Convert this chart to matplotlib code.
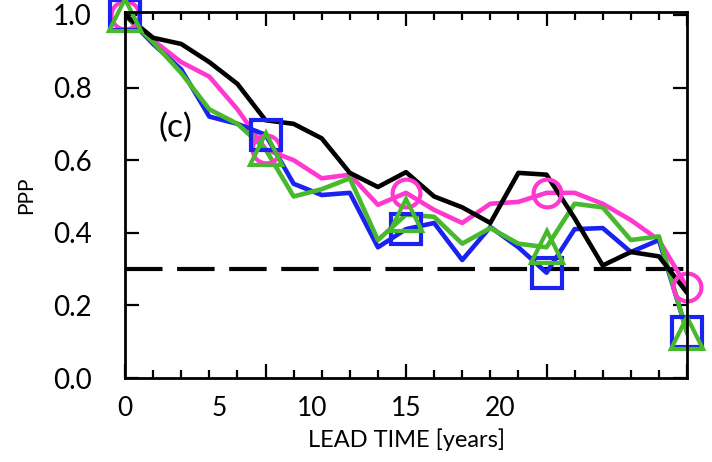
import matplotlib
matplotlib.use("Agg")
import matplotlib.pyplot as plt
from matplotlib.ticker import MultipleLocator

plt.rcParams["font.family"] = ["Lato", "DejaVu Sans"]

# lead time in years, one value per year
lead = list(range(21))
black = [1.0, 0.937, 0.92, 0.87, 0.81, 0.71, 0.70, 0.66, 0.565, 0.526, 0.567,
         0.50, 0.47, 0.427, 0.565, 0.56, 0.44, 0.31, 0.347, 0.335, 0.235]
blue = [1.0, 0.92, 0.85, 0.72, 0.70, 0.67, 0.535, 0.504, 0.51, 0.36, 0.41,
        0.427, 0.325, 0.416, 0.36, 0.29, 0.41, 0.413, 0.347, 0.38, 0.127]
magenta = [1.0, 0.93, 0.87, 0.83, 0.74, 0.63, 0.60, 0.55, 0.56, 0.477, 0.51,
           0.463, 0.427, 0.48, 0.485, 0.51, 0.51, 0.48, 0.435, 0.38, 0.25]
green = [1.0, 0.925, 0.84, 0.74, 0.70, 0.63, 0.50, 0.52, 0.55, 0.38, 0.45,
         0.444, 0.37, 0.413, 0.37, 0.36, 0.48, 0.47, 0.38, 0.39, 0.125]
threshold = 0.3
xlabels = [0, 5, 10, 15, 20]

c_blue = "#1a22f0"
c_mag = "#ff38d0"
c_green = "#48b82c"

fig = plt.figure(figsize=(7.12, 4.62), dpi=100)
ax = fig.add_axes([0.1756, 0.1818, 0.7893, 0.7922])

ax.axhline(threshold, color="black", lw=3, dashes=(9, 3.5))

lw = 3.3
ax.plot(lead, magenta, color=c_mag, lw=lw)
ax.plot(lead, blue, color=c_blue, lw=lw)
ax.plot(lead, green, color=c_green, lw=lw)
ax.plot(lead, black, color="black", lw=lw)

mk = dict(markevery=5, ls="none", mfc="none", mew=3, clip_on=False)
ax.plot(lead, magenta, marker="o", ms=20, mec=c_mag, **mk)
ax.plot(lead, blue, marker="s", ms=21, mec=c_blue, **mk)
ax.plot(lead, green, marker="^", ms=23, mec=c_green, **mk)

ax.text(1.2, 0.69, "(c)", fontsize=24, va="center", ha="left")

ax.set_xlim(0, 20)
ax.set_ylim(0, 1.008)
ax.xaxis.set_major_locator(MultipleLocator(5))
ax.xaxis.set_minor_locator(MultipleLocator(1))
ax.set_yticks([0, 0.2, 0.4, 0.6, 0.8, 1.0])
ax.set_yticklabels(["0.0", "0.2", "0.4", "0.6", "0.8", "1.0"])
ax.tick_params(which="both", direction="in", top=True, right=True, width=1.6)
ax.tick_params(which="major", length=10, labelsize=20, pad=24)
ax.tick_params(which="minor", length=6)
ax.tick_params(axis="x", labelbottom=False)
for s in ax.spines.values():
    s.set_linewidth(2)

# tick labels in the original sit off the tick marks
sec = ax.secondary_xaxis("bottom", functions=(lambda x: x * 1.5, lambda x: x / 1.5))
sec.set_xticks(xlabels)
sec.tick_params(length=0, labelsize=19, pad=13)
sec.spines["bottom"].set_visible(False)
sec.set_xlabel("LEAD TIME [years]", fontsize=17, labelpad=5)

ax.set_ylabel("PPP", fontsize=15, labelpad=12)

fig.savefig("out.png", dpi=100)
